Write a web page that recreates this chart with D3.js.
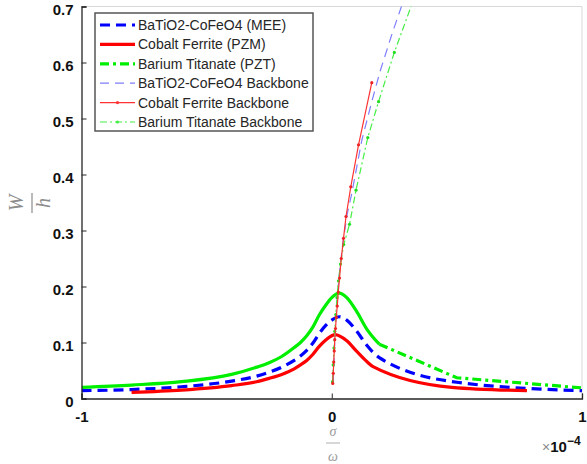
<!DOCTYPE html>
<html>
<head>
<meta charset="utf-8">
<script src="https://cdnjs.cloudflare.com/ajax/libs/d3/7.8.5/d3.min.js"></script>
<style>
  body { margin: 0; background: #fff; }
  svg { display: block; }
</style>
</head>
<body>
<div id="vis"></div>
<script>

// values (x in units of 1e-4)
var mainX = [-1, -0.8, -0.6, -0.4, -0.3, -0.25, -0.2, -0.15, -0.125, -0.1, -0.075, -0.05, -0.025, 0, 0.03, 0.06, 0.1, 0.14, 0.19, 0.5, 1];
var meeY  = [0.014, 0.016, 0.021, 0.031, 0.040, 0.047, 0.056, 0.068, 0.076, 0.086, 0.099, 0.116, 0.130, 0.140, 0.146, 0.140, 0.120, 0.095, 0.073, 0.029, 0.014];
var pztY  = [0.020, 0.024, 0.030, 0.043, 0.056, 0.064, 0.075, 0.091, 0.100, 0.112, 0.128, 0.149, 0.166, 0.180, 0.188, 0.180, 0.155, 0.124, 0.097, 0.037, 0.019];

var pzmX = [-0.8, -0.6, -0.4, -0.3, -0.25, -0.2, -0.15, -0.125, -0.1, -0.075, -0.05, -0.025, 0, 0.013, 0.06, 0.1, 0.14, 0.165, 0.48, 0.78];
var pzmY = [0.011, 0.015, 0.023, 0.030, 0.036, 0.043, 0.053, 0.060, 0.068, 0.079, 0.093, 0.104, 0.112, 0.114, 0.103, 0.084, 0.066, 0.057, 0.020, 0.014];

// backbone curves
var meeBackX = [0.006, 0.010, 0.015, 0.022, 0.032, 0.045, 0.062, 0.080, 0.120, 0.160, 0.193, 0.240, 0.290];
var meeBackY = [0.030, 0.080, 0.130, 0.180, 0.230, 0.280, 0.330, 0.366, 0.461, 0.530, 0.584, 0.650, 0.715];

var pzmBackX = [0.004, 0.006, 0.008, 0.010, 0.012, 0.015, 0.018, 0.022, 0.026, 0.031, 0.038, 0.047, 0.057, 0.076, 0.107, 0.160];
var pzmBackY = [0.027, 0.045, 0.065, 0.085, 0.105, 0.125, 0.145, 0.165, 0.190, 0.215, 0.250, 0.286, 0.325, 0.378, 0.453, 0.564];

var pztBackX = [0.003, 0.006, 0.009, 0.012, 0.016, 0.021, 0.027, 0.035, 0.048, 0.071, 0.097, 0.144, 0.187, 0.250, 0.325];
var pztBackY = [0.030, 0.060, 0.090, 0.120, 0.150, 0.180, 0.210, 0.240, 0.275, 0.311, 0.372, 0.466, 0.530, 0.618, 0.710];

var legendNames = ["BaTiO2-CoFeO4 (MEE)", "Cobalt Ferrite (PZM)", "Barium Titanate (PZT)",
                   "BaTiO2-CoFeO4 Backbone", "Cobalt Ferrite Backbone", "Barium Titanate Backbone"];

var xTicks = [-1, 0, 1];
var xTickLabels = ["-1", "0", "1"];
var yTicks = [0, 0.1, 0.2, 0.3, 0.4, 0.5, 0.6, 0.7];
var yTickLabels = ["0", "0.1", "0.2", "0.3", "0.4", "0.5", "0.6", "0.7"];

var W = 587, H = 464;
var margin = {top: 6.5, right: 5, bottom: 65.5, left: 81.5};
var width = W - margin.left - margin.right;
var height = H - margin.top - margin.bottom;

var svg = d3.select("#vis").append("svg")
    .attr("width", W)
    .attr("height", H);

var x = d3.scaleLinear().domain([-1, 1]).range([0, width]);
var y = d3.scaleLinear().domain([0, 0.7]).range([height, 0]);

var plot = svg.append("g")
    .attr("transform", "translate(" + margin.left + "," + margin.top + ")");

svg.append("defs").append("clipPath")
    .attr("id", "clip")
    .append("rect")
    .attr("width", width)
    .attr("height", height);

//light box on top and right
plot.append("path")
    .attr("d", "M0,0H" + width + "V" + height)
    .attr("fill", "none")
    .attr("stroke", "#d9d9d9")
    .attr("stroke-width", 1);

function pts(xs, ys) {
    return xs.map(function (d, i) { return {x: d, y: ys[i]}; });
}

var smooth = d3.line()
    .curve(d3.curveMonotoneX)
    .x(function (d) { return x(d.x); })
    .y(function (d) { return y(d.y); });

var straight = d3.line()
    .x(function (d) { return x(d.x); })
    .y(function (d) { return y(d.y); });

var lines = plot.append("g").attr("clip-path", "url(#clip)");

// main curves
lines.append("path")
    .attr("d", smooth(pts(mainX, meeY)))
    .attr("fill", "none")
    .attr("stroke", "#0000ff")
    .attr("stroke-width", 3.2)
    .attr("stroke-dasharray", "10,6");

lines.append("path")
    .attr("d", smooth(pts(pzmX, pzmY)))
    .attr("fill", "none")
    .attr("stroke", "#ff0000")
    .attr("stroke-width", 3.2);

//green: dense part looks solid, sparse tail shows the dash-dot
var pzt = pts(mainX, pztY);
lines.append("path")
    .attr("d", smooth.defined(function (d) { return d.x <= 0.19; })(pzt))
    .attr("fill", "none")
    .attr("stroke", "#00ee00")
    .attr("stroke-width", 3.2);
lines.append("path")
    .attr("d", straight.defined(function (d) { return d.x >= 0.19; })(pzt))
    .attr("fill", "none")
    .attr("stroke", "#00ee00")
    .attr("stroke-width", 3.2)
    .attr("stroke-dasharray", "9,4,3,4");
smooth.defined(function () { return true; });
straight.defined(function () { return true; });

// backbones
lines.append("path")
    .attr("d", straight(pts(meeBackX, meeBackY)))
    .attr("fill", "none")
    .attr("stroke", "#7f7fff")
    .attr("stroke-width", 1.2)
    .attr("stroke-dasharray", "9,6");

lines.append("path")
    .attr("d", straight(pts(pztBackX, pztBackY)))
    .attr("fill", "none")
    .attr("stroke", "#44ee44")
    .attr("stroke-width", 1.2)
    .attr("stroke-dasharray", "7,3,2,3");

lines.selectAll(".pzt-mark")
    .data(pts(pztBackX, pztBackY))
    .enter().append("circle")
    .attr("class", "pzt-mark")
    .attr("cx", function (d) { return x(d.x); })
    .attr("cy", function (d) { return y(d.y); })
    .attr("r", 1.6)
    .attr("fill", "#22dd22");

lines.append("path")
    .attr("d", straight(pts(pzmBackX, pzmBackY)))
    .attr("fill", "none")
    .attr("stroke", "#ff3333")
    .attr("stroke-width", 1.2);

lines.selectAll(".pzm-mark")
    .data(pts(pzmBackX, pzmBackY))
    .enter().append("circle")
    .attr("class", "pzm-mark")
    .attr("cx", function (d) { return x(d.x); })
    .attr("cy", function (d) { return y(d.y); })
    .attr("r", 1.6)
    .attr("fill", "#ee2222");

// axes
var xAxis = d3.axisBottom(x)
    .tickValues(xTicks)
    .tickSize(-5)
    .tickFormat(function (d, i) { return xTickLabels[i]; });

var yAxis = d3.axisLeft(y)
    .tickValues(yTicks)
    .tickSize(-5)
    .tickFormat(function (d, i) { return yTickLabels[i]; });

var gx = plot.append("g")
    .attr("transform", "translate(0," + height + ")")
    .call(xAxis);

var gy = plot.append("g").call(yAxis);

[gx, gy].forEach(function (g) {
    g.select(".domain").attr("stroke", "#262626").attr("stroke-width", 1.3);
    g.selectAll(".tick line").attr("stroke", "#262626");
    g.selectAll(".tick text")
        .attr("fill", "#111")
        .style("font-family", "'Liberation Sans', Arial, sans-serif")
        .style("font-size", "15px")
        .style("font-weight", "bold");
});

gx.selectAll(".tick text").attr("y", 13).attr("dy", "0.71em");
gy.selectAll(".tick text").attr("x", -8).attr("dy", "8px");

// x10^-4 multiplier
var mult = svg.append("text")
    .attr("x", 542)
    .attr("y", 452)
    .style("font-family", "'Liberation Sans', Arial, sans-serif");
mult.append("tspan").attr("fill", "#8a8a8a").style("font-size", "14px").text("\u00d7");
mult.append("tspan").attr("fill", "#111").style("font-size", "15px").style("font-weight", "bold").text("10");
mult.append("tspan").attr("fill", "#111").style("font-size", "12px").style("font-weight", "bold")
    .attr("dy", -7).text("\u22124");

// axis labels as fractions
var serif = "'Liberation Serif', 'Times New Roman', serif";
var ylab = svg.append("g").attr("transform", "translate(32,203) rotate(-90)");
ylab.append("text").attr("x", 0).attr("y", -9).attr("text-anchor", "middle")
    .attr("fill", "#8c8c8c").style("font-family", serif).style("font-style", "italic")
    .style("font-size", "20px").text("W");
ylab.append("line").attr("x1", -10).attr("x2", 10).attr("y1", 0).attr("y2", 0)
    .attr("stroke", "#8c8c8c").attr("stroke-width", 1.2);
ylab.append("text").attr("x", 0).attr("y", 18).attr("text-anchor", "middle")
    .attr("fill", "#8c8c8c").style("font-family", serif).style("font-style", "italic")
    .style("font-size", "20px").text("h");

var xlab = svg.append("g").attr("transform", "translate(333,443)");
xlab.append("text").attr("x", 0).attr("y", -7).attr("text-anchor", "middle")
    .attr("fill", "#9a9a9a").style("font-family", serif).style("font-style", "italic")
    .style("font-size", "14px").text("\u03c3");
xlab.append("line").attr("x1", -7).attr("x2", 7).attr("y1", 0).attr("y2", 0)
    .attr("stroke", "#bdbdbd").attr("stroke-width", 1.2);
xlab.append("text").attr("x", 0).attr("y", 18).attr("text-anchor", "middle")
    .attr("fill", "#9a9a9a").style("font-family", serif).style("font-style", "italic")
    .style("font-size", "14px").text("\u03c9");

// legend
var legend = svg.append("g").attr("transform", "translate(95,13)");
legend.append("rect")
    .attr("width", 218)
    .attr("height", 118)
    .attr("fill", "#fff")
    .attr("stroke", "#555")
    .attr("stroke-width", 1.5);

var legendStyle = [
    {color: "#0000ff", w: 3.2, dash: "10,6", mark: false},
    {color: "#ff0000", w: 3.2, dash: null, mark: false},
    {color: "#00ee00", w: 3.2, dash: "9,4,3,4", mark: false},
    {color: "#7f7fff", w: 1.2, dash: "9,6", mark: false},
    {color: "#ff3333", w: 1.2, dash: null, mark: true},
    {color: "#44ee44", w: 1.2, dash: "7,3,2,3", mark: true}
];

var rows = legend.selectAll(".row")
    .data(legendNames)
    .enter().append("g")
    .attr("class", "row")
    .attr("transform", function (d, i) { return "translate(0," + (12 + i * 19.4) + ")"; });

rows.append("line")
    .attr("x1", 5).attr("x2", 40)
    .attr("stroke", function (d, i) { return legendStyle[i].color; })
    .attr("stroke-width", function (d, i) { return legendStyle[i].w; })
    .attr("stroke-dasharray", function (d, i) { return legendStyle[i].dash; });

rows.filter(function (d, i) { return legendStyle[i].mark; })
    .append("circle")
    .attr("cx", 22.5)
    .attr("r", 1.6)
    .attr("fill", function (d) { return legendStyle[legendNames.indexOf(d)].color; });

rows.append("text")
    .attr("x", 43)
    .attr("dy", "0.35em")
    .attr("fill", "#262626")
    .style("font-family", "'Liberation Sans', Arial, sans-serif")
    .style("font-size", "14px")
    .text(function (d) { return d; });

</script>
</body>
</html>
